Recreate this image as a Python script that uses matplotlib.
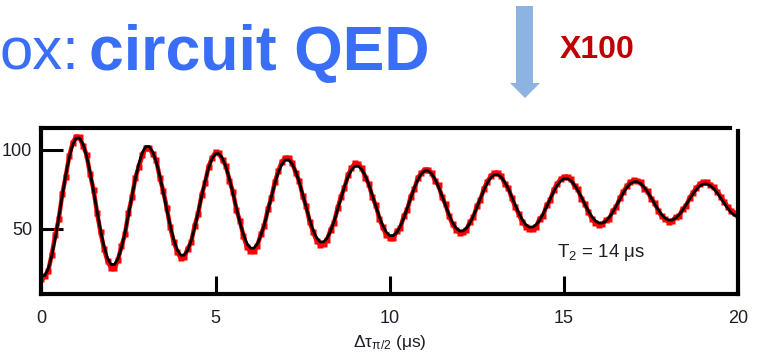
import numpy as np
import matplotlib
matplotlib.use('Agg')
import matplotlib.pyplot as plt
from matplotlib.patches import Polygon

plt.rcParams['font.family'] = ['Liberation Sans', 'DejaVu Sans']
plt.rcParams['mathtext.fontset'] = 'custom'
plt.rcParams['mathtext.rm'] = 'Liberation Sans'
plt.rcParams['mathtext.it'] = 'Liberation Sans'
plt.rcParams['mathtext.bf'] = 'Liberation Sans:bold'

# Ramsey fringe, time axis in microseconds (0 .. 20, step 0.1)
t = np.linspace(0, 20, 201)

# measured points (red)
signal = [
    18.0,
    20.0, 23.5, 33.8, 46.0, 56.0, 71.8, 83.0, 96.0, 104.5, 108.5,
    108.0, 102.5, 97.0, 84.5, 74.8, 60.0, 48.0, 37.5, 29.5, 25.5,
    25.0, 30.5, 39.0, 46.5, 60.0, 70.0, 82.5, 89.5, 96.5, 101.5,
    101.0, 97.5, 93.5, 82.5, 74.0, 63.5, 51.0, 42.0, 35.5, 31.5,
    32.0, 37.5, 41.5, 52.0, 59.5, 71.5, 79.0, 89.5, 95.0, 98.5,
    98.0, 93.5, 90.0, 80.5, 73.5, 62.0, 55.0, 45.5, 38.5, 36.0,
    36.0, 39.5, 46.5, 52.0, 62.5, 69.5, 79.5, 86.5, 92.5, 95.0,
    95.0, 92.0, 85.5, 80.5, 71.0, 64.5, 54.5, 48.0, 42.5, 40.0,
    40.5, 43.0, 49.5, 54.0, 63.0, 70.5, 76.0, 84.0, 88.5, 91.5,
    91.0, 88.5, 82.5, 78.5, 70.0, 65.0, 56.5, 51.0, 46.0, 44.5,
    44.0, 48.5, 50.5, 58.0, 62.0, 70.5, 75.0, 82.0, 85.5, 87.5,
    87.5, 85.5, 80.5, 77.5, 70.0, 65.5, 58.0, 53.0, 49.5, 47.5,
    48.0, 49.5, 54.5, 57.5, 64.5, 68.5, 75.5, 80.0, 83.5, 85.5,
    85.5, 83.5, 78.5, 76.0, 69.5, 64.0, 59.5, 54.5, 51.5, 50.0,
    50.0, 51.5, 56.5, 58.5, 65.0, 68.0, 74.5, 78.5, 81.5, 83.0,
    83.0, 81.5, 77.0, 75.0, 69.0, 66.0, 60.5, 56.5, 54.0, 52.5,
    53.0, 55.5, 56.5, 61.5, 64.0, 69.5, 73.5, 77.0, 79.5, 81.0,
    80.5, 79.5, 75.5, 74.0, 69.0, 66.5, 61.5, 58.0, 56.0, 54.5,
    55.0, 57.5, 58.0, 62.5, 64.5, 69.5, 73.0, 76.0, 78.5, 79.5,
    79.5, 78.0, 76.5, 73.5, 70.5, 67.0, 64.0, 61.5, 60.0, 59.0,
]

# fitted curve (black), T2 = 14 us
fit = [
    20.2,
    20.5, 24.8, 32.9, 44.0, 57.1, 70.9, 84.0, 95.1, 103.2, 107.5,
    107.5, 103.6, 96.1, 85.9, 73.8, 61.2, 49.1, 38.9, 31.4, 27.5,
    27.5, 31.1, 38.1, 47.6, 58.9, 70.6, 81.9, 91.4, 98.4, 102.1,
    102.1, 98.7, 92.3, 83.5, 73.2, 62.3, 52.0, 43.2, 36.8, 33.4,
    33.4, 36.5, 42.5, 50.7, 60.4, 70.6, 80.3, 88.5, 94.5, 97.6,
    97.6, 94.7, 89.1, 81.5, 72.5, 63.0, 54.0, 46.4, 40.8, 37.9,
    37.8, 40.6, 45.8, 52.9, 61.3, 70.2, 78.6, 85.7, 90.9, 93.7,
    93.7, 91.1, 86.3, 79.7, 71.9, 63.7, 55.8, 49.2, 44.4, 41.8,
    41.8, 44.1, 48.6, 54.7, 62.0, 69.5, 76.8, 82.9, 87.4, 89.7,
    89.7, 87.6, 83.5, 77.9, 71.2, 64.3, 57.7, 52.0, 47.9, 45.8,
    45.8, 47.8, 51.6, 56.8, 63.0, 69.5, 75.7, 80.9, 84.7, 86.8,
    86.8, 84.9, 81.4, 76.5, 70.8, 64.8, 59.0, 54.1, 50.6, 48.7,
    48.7, 50.5, 53.8, 58.3, 63.7, 69.3, 74.7, 79.2, 82.5, 84.3,
    84.3, 82.7, 79.6, 75.4, 70.4, 65.1, 60.2, 55.9, 52.8, 51.2,
    51.2, 52.7, 55.5, 59.5, 64.1, 68.9, 73.5, 77.5, 80.3, 81.8,
    81.8, 80.5, 77.8, 74.2, 70.0, 65.5, 61.3, 57.7, 55.1, 53.7,
    53.7, 54.9, 57.4, 60.7, 64.7, 68.8, 72.8, 76.1, 78.6, 79.8,
    79.9, 78.7, 76.4, 73.3, 69.7, 65.8, 62.2, 59.1, 56.8, 55.6,
    55.6, 56.8, 58.9, 61.8, 65.2, 68.8, 72.2, 75.1, 77.3, 78.4,
    78.4, 77.3, 75.4, 72.6, 69.4, 66.1, 62.9, 60.2, 58.5, 57.5,
]

x_ticks = [0, 5, 10, 15, 20]
y_ticks = [50, 100]

W, H = 760, 361
fig = plt.figure(figsize=(W / 100, H / 100), dpi=100)

# slide header pieces
blue = '#3a6ef7'
fig.text(-1 / W, 1 - 70 / H, 'ox:', fontsize=43, color=blue, va='baseline', ha='left')
fig.text(89 / W, 1 - 70 / H, 'circuit QED', fontsize=45, color=blue, fontweight='bold',
         va='baseline', ha='left')
fig.text(597 / W, 1 - 50 / H, 'X100', fontsize=23, color='#c00000', fontweight='bold',
         va='center', ha='center')

arrow_px = [(516, 6), (533, 6), (533, 83), (540, 83), (525, 98), (510, 83), (516, 83)]
arrow = Polygon([(x / W, 1 - y / H) for x, y in arrow_px], closed=True,
                transform=fig.transFigure, facecolor='#8db3e2', edgecolor='none')
fig.patches.append(arrow)

# data panel
ax = fig.add_axes([41.3 / W, 1 - 293.7 / H, 697 / W, 165.4 / H])
ax.plot(t, signal, '-s', color='red', lw=3.2, ms=4.6, mec='none', zorder=2)
ax.plot(t, fit, '-', color='black', lw=2.0, zorder=3)

ax.set_xlim(0, 20)
ax.set_ylim(9, 113.7)
ax.set_xticks(x_ticks)
ax.set_yticks(y_ticks)

for side in ['left', 'right', 'top', 'bottom']:
    ax.spines[side].set_linewidth(3.0)
ax.spines['top'].set_bounds(0, 19.75)
ax.spines['right'].set_bounds(9, 112)

label_color = '#1e1e28'
ax.tick_params(axis='x', direction='in', length=13, width=2.2, pad=12,
               labelsize=13, labelcolor=label_color)
ax.tick_params(axis='y', direction='in', length=16, width=2.2, pad=6.5,
               labelsize=13, labelcolor=label_color)
ax.set_xlabel('Δτ$_{π/2}$ (μs)', fontsize=12.5, color=label_color, labelpad=4)

ax.text(14.8, 35.0, 'T$_2$ = 14 μs', fontsize=13.5, color=label_color, va='center', ha='left')

fig.savefig('out.png', dpi=100)
